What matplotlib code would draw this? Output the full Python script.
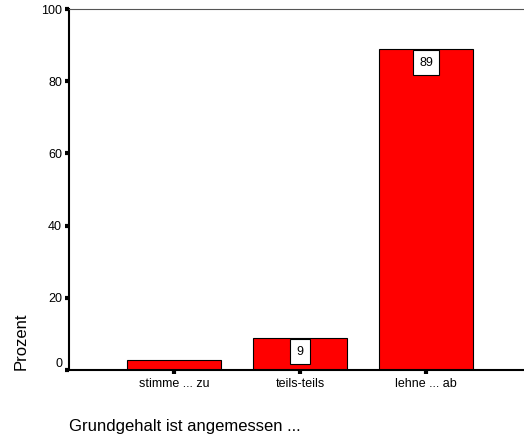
import matplotlib
matplotlib.use("Agg")
import matplotlib.pyplot as plt

# Daten
kategorien = ["stimme ... zu", "teils-teils", "lehne ... ab"]
prozent = [2.7, 8.9, 88.9]
beschriftung = ["", "9", "89"]
y_ticks = [0, 20, 40, 60, 80, 100]

plt.rcParams["font.family"] = ["Liberation Sans", "DejaVu Sans"]

fig = plt.figure(figsize=(5.24, 4.36), dpi=100)
ax = fig.add_axes([69 / 524, 66 / 436, 1 - 69 / 524, 361 / 436])

x = list(range(len(kategorien)))
bars = ax.bar(x, prozent, width=0.75, color="#ff0000", edgecolor="black", linewidth=0.8)

# Wertelabels im Kasten, Kasten oben buendig mit dem Balken
for b, txt in zip(bars, beschriftung):
    if txt:
        ax.annotate(txt, (b.get_x() + b.get_width() / 2, b.get_height()),
                    xytext=(0, -5.5), textcoords="offset points",
                    ha="center", va="top", fontsize=9,
                    bbox=dict(boxstyle="square,pad=0.5", fc="white", ec="black", lw=0.8))

ax.set_xlim(-0.833, 2.778)
ax.set_ylim(0, 100)
ax.set_xticks(x)
ax.set_xticklabels(kategorien, fontsize=9)
ax.set_yticks(y_ticks)
ax.tick_params(axis="y", labelsize=9, direction="out", length=3, width=3, pad=2)
ax.tick_params(axis="x", direction="out", length=3, width=3, pad=3)
# die Null sitzt im Original etwas hoeher
ax.get_yticklabels()[0].set_va("bottom")

ax.spines["right"].set_visible(False)
ax.spines["top"].set_color("#555555")
ax.spines["left"].set_linewidth(1.5)
ax.spines["bottom"].set_linewidth(1.5)

ax.set_ylabel("Prozent", fontsize=12, loc="bottom", labelpad=9)
fig.text(69 / 524, 1 - 426 / 436, "Grundgehalt ist angemessen ...", fontsize=12, va="center", ha="left")

fig.savefig("out.png", dpi=100)
